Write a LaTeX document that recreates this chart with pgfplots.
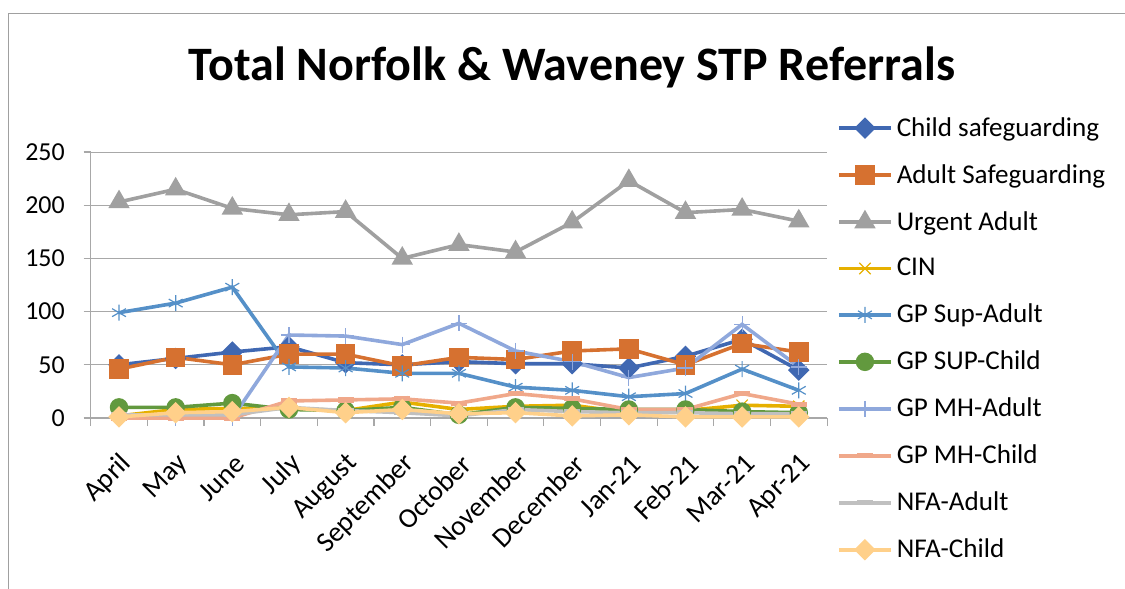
\documentclass[border=0pt]{standalone}
\usepackage{pgfplots}
\pgfplotsset{compat=1.18}
\usepackage{fontspec}
\setmainfont{Carlito}

\definecolor{frame}{HTML}{A0A0A0}
\definecolor{gridc}{HTML}{A8A8A8}
\definecolor{cChild}{HTML}{4068B2}
\definecolor{cAdult}{HTML}{D67130}
\definecolor{cUrgent}{HTML}{A0A0A0}
\definecolor{cCIN}{HTML}{E6B000}
\definecolor{cSupA}{HTML}{5590C8}
\definecolor{cSupC}{HTML}{62993E}
\definecolor{cMHA}{HTML}{8FA8DC}
\definecolor{cMHC}{HTML}{F0A88A}
\definecolor{cNFAA}{HTML}{C0C0C0}
\definecolor{cNFAC}{HTML}{FFD08A}

\begin{document}
\begin{tikzpicture}
\useasboundingbox (0bp,0bp) rectangle (562.5bp,-294.5bp);
\draw[color=frame, line width=0.5bp] (4bp,-294.5bp) -- (4bp,-6.5bp) -- (562.5bp,-6.5bp);
\node[anchor=base, font=\fontsize{24.1}{29}\selectfont\bfseries] at (286bp,-40bp)
  {Total Norfolk \& Waveney STP Referrals};
\begin{axis}[
    at={(45.35bp,-209bp)}, anchor=south west,
    width=368.2bp, height=133bp, scale only axis,
    xmin=-0.5, xmax=12.5, ymin=0, ymax=250,
    xtick={0,...,12},
    xticklabels={April, May, June, July, August, September, October, November, December, Jan-21, Feb-21, Mar-21, Apr-21},
    minor xtick={-0.5,0.5,...,12.5},
    ytick={0,50,...,250},
    axis lines*=left,
    axis line style={draw=gridc, line width=0.6bp},
    ymajorgrids, grid style={draw=gridc, line width=0.5bp},
    tick align=outside,
    major x tick style={draw=none},
    minor x tick style={draw=gridc, line width=0.6bp},
    major y tick style={draw=gridc, line width=0.6bp},
    major tick length=3.5bp, minor tick length=4bp,
    yticklabel style={font=\fontsize{13}{15}\selectfont, xshift=-6bp},
    xticklabel style={font=\fontsize{14}{16}\selectfont, rotate=45, anchor=east, xshift=-6bp, yshift=-15bp},
    /pgf/number format/assume math mode=true,
    clip=false,
    every axis plot/.append style={line width=1.8bp},
    legend image code/.code={\draw[mark repeat=2,mark phase=2,#1] plot coordinates {(0bp,0bp) (13bp,0bp) (26bp,0bp)};},
    legend style={at={(1.005,1.162)}, anchor=north west, draw=none, fill=none,
      font=\fontsize{13.6}{16}\selectfont, row sep=8.6bp},
    legend cell align=left,
]
\addplot[color=cChild, mark=square*, mark size=2.9bp, mark options={rotate=45}] coordinates {
  (0,50) (1,56) (2,62) (3,67) (4,52) (5,50) (6,53) (7,51) (8,51) (9,47) (10,58) (11,74) (12,45)};
\addlegendentry{Child safeguarding}
\addplot[color=cAdult, mark=square*, mark size=4bp] coordinates {
  (0,46) (1,57) (2,50) (3,60) (4,60) (5,49) (6,57) (7,55) (8,63) (9,65) (10,50) (11,70) (12,62)};
\addlegendentry{Adult Safeguarding}
\addplot[color=cUrgent, mark=triangle*, mark size=4.4bp] coordinates {
  (0,203) (1,215) (2,197) (3,191) (4,194) (5,150) (6,163) (7,156) (8,184) (9,223) (10,193) (11,196) (12,185)};
\addlegendentry{Urgent Adult}
\addplot[color=cCIN, mark=x, mark size=4bp, mark options={line width=0.6bp}] coordinates {
  (0,2) (1,8) (2,9) (3,9) (4,7) (5,15) (6,8) (7,11) (8,12) (9,5) (10,7) (11,12) (12,11)};
\addlegendentry{CIN}
\addplot[color=cSupA, mark=asterisk, mark size=4bp, mark options={line width=0.6bp}] coordinates {
  (0,99) (1,108) (2,123) (3,48) (4,47) (5,42) (6,42) (7,29) (8,26) (9,20) (10,23) (11,46) (12,26)};
\addlegendentry{GP Sup-Adult}
\addplot[color=cSupC, mark=*, mark size=3.7bp] coordinates {
  (0,10) (1,10) (2,14) (3,8) (4,7) (5,10) (6,3) (7,10) (8,9) (9,8) (10,8) (11,6) (12,5)};
\addlegendentry{GP SUP-Child}
\addplot[color=cMHA, mark=+, mark size=4bp, mark options={line width=0.6bp}] coordinates {
  (0,0) (1,0) (2,0) (3,78) (4,77) (5,69) (6,89) (7,63) (8,53) (9,38) (10,47) (11,88) (12,48)};
\addlegendentry{GP MH-Adult}
\addplot[color=cMHC, mark=-, mark size=4bp, mark options={line width=2.6bp}] coordinates {
  (0,0) (1,0) (2,0) (3,16) (4,17) (5,18) (6,14) (7,23) (8,18) (9,8) (10,8) (11,23) (12,13)};
\addlegendentry{GP MH-Child}
\addplot[color=cNFAA, mark=-, mark size=4bp, mark options={line width=2.6bp}] coordinates {
  (0,3) (1,3) (2,3) (3,10) (4,7) (5,5) (6,2) (7,8) (8,6) (9,5) (10,5) (11,4) (12,4)};
\addlegendentry{NFA-Adult}
\addplot[color=cNFAC, mark=square*, mark size=2.9bp, mark options={rotate=45}] coordinates {
  (0,1) (1,5) (2,6) (3,10) (4,5) (5,8) (6,4) (7,5) (8,2) (9,3) (10,1) (11,1) (12,1)};
\addlegendentry{NFA-Child}
\end{axis}
\end{tikzpicture}
\end{document}
